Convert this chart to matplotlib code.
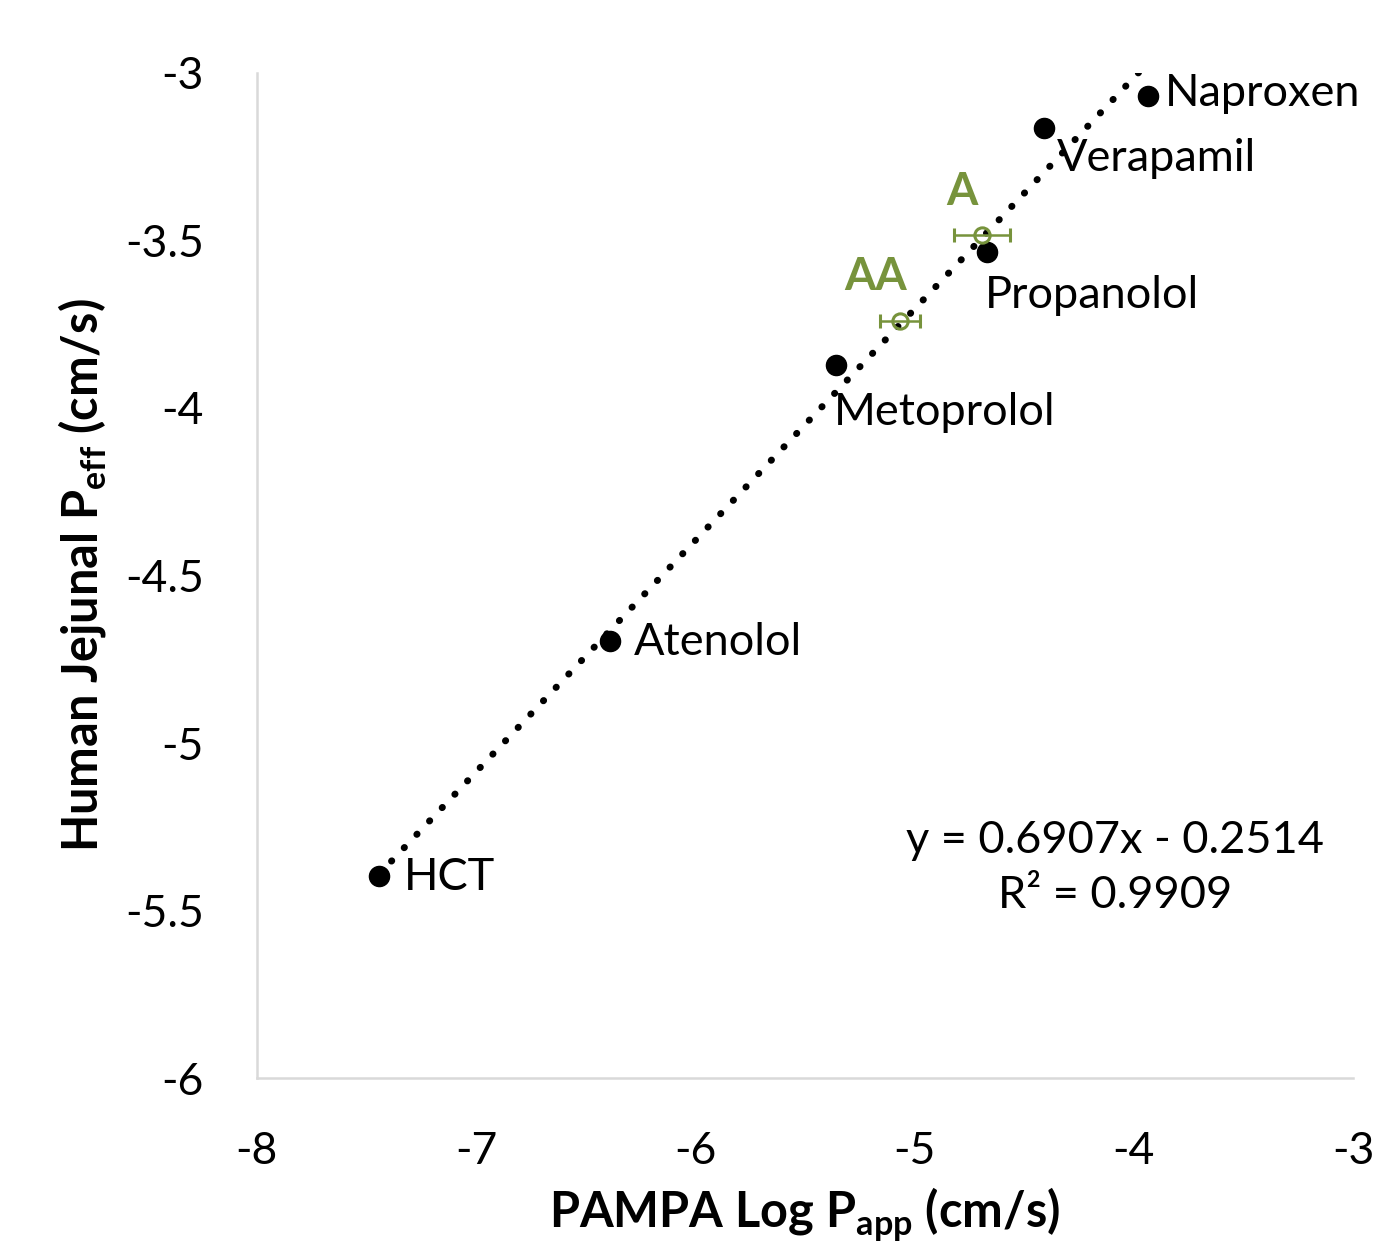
import matplotlib
matplotlib.use("Agg")
import matplotlib.pyplot as plt
import numpy as np

plt.rcParams['font.family'] = ['Lato', 'DejaVu Sans']
plt.rcParams['mathtext.fontset'] = 'custom'
plt.rcParams['mathtext.rm'] = 'Lato'
plt.rcParams['mathtext.bf'] = 'Lato:bold'

# Reference compounds
names = ["HCT", "Atenolol", "Metoprolol", "Propanolol", "Verapamil", "Naproxen"]
pampa = [-7.443, -6.39, -5.359, -4.67, -4.41, -3.935]
peff = [-5.397, -4.696, -3.872, -3.534, -3.164, -3.069]

# Test compounds
test_names = ["A", "AA"]
test_x = [-4.693, -5.067]
test_y = [-3.484, -3.740]
test_xerr = [0.128, 0.09]

# Trendline
slope, intercept = 0.6907, -0.2514
r2 = 0.9909

# label anchors (text left/center positions)
label_pos = {
    "HCT": (-7.33, -5.40),
    "Atenolol": (-6.28, -4.70),
    "Metoprolol": (-5.368, -4.012),
    "Propanolol": (-4.679, -3.663),
    "Verapamil": (-4.35, -3.254),
    "Naproxen": (-3.858, -3.06),
}
test_label_pos = {"A": (-4.784, -3.355), "AA": (-5.176, -3.609)}

green = "#77933C"

fig = plt.figure(figsize=(13.73, 12.43), dpi=100)
ax = fig.add_axes([0.187, 0.1327, 0.7984, 0.8086])
ax.set_xlim(-8, -3)
ax.set_ylim(-6, -3)

xs = np.array([min(pampa), max(pampa)])
ax.plot(xs, slope * xs + intercept, color="black", linestyle=(0, (0.05, 2.6)),
        linewidth=5, dash_capstyle="round", zorder=2)

ax.plot(pampa, peff, "o", color="black", markersize=14.5, zorder=3)

ax.errorbar(test_x, test_y, xerr=test_xerr, fmt="o", markersize=11,
            markerfacecolor="none", markeredgecolor=green, markeredgewidth=2.2,
            ecolor=green, elinewidth=1.8, capsize=5, capthick=1.8, zorder=4)

for n in names:
    x, y = label_pos[n]
    ax.text(x, y, n, fontsize=32.5, ha="left", va="center", color="black", zorder=5)
for n in test_names:
    x, y = test_label_pos[n]
    ax.text(x, y, n, fontsize=32.5, ha="center", va="center", color=green,
            fontweight="bold", zorder=5)

ax.text(-4.086, -5.373, f"y = {slope}x - {abs(intercept)}\nR² = {r2}", fontsize=32.5,
        ha="center", va="center", linespacing=1.45)

ax.set_xticks([-8, -7, -6, -5, -4, -3])
ax.set_yticks([-6, -5.5, -5, -4.5, -4, -3.5, -3])
ax.set_xticklabels(["-8", "-7", "-6", "-5", "-4", "-3"])
ax.set_yticklabels(["-6", "-5.5", "-5", "-4.5", "-4", "-3.5", "-3"])
ax.tick_params(axis="both", length=0, labelsize=32)
ax.tick_params(axis="x", pad=38)
ax.tick_params(axis="y", pad=38)

for s in ["top", "right"]:
    ax.spines[s].set_visible(False)
for s in ["left", "bottom"]:
    ax.spines[s].set_color("#D9D9D9")
    ax.spines[s].set_linewidth(1.8)

ax.set_xlabel(r"PAMPA Log P$_{\mathbf{app}}$ (cm/s)", fontsize=35, fontweight="bold", labelpad=10)
ax.set_ylabel(r"Human Jejunal P$_{\mathbf{eff}}$ (cm/s)", fontsize=35, fontweight="bold", labelpad=12)

fig.savefig("out.png", dpi=100)
